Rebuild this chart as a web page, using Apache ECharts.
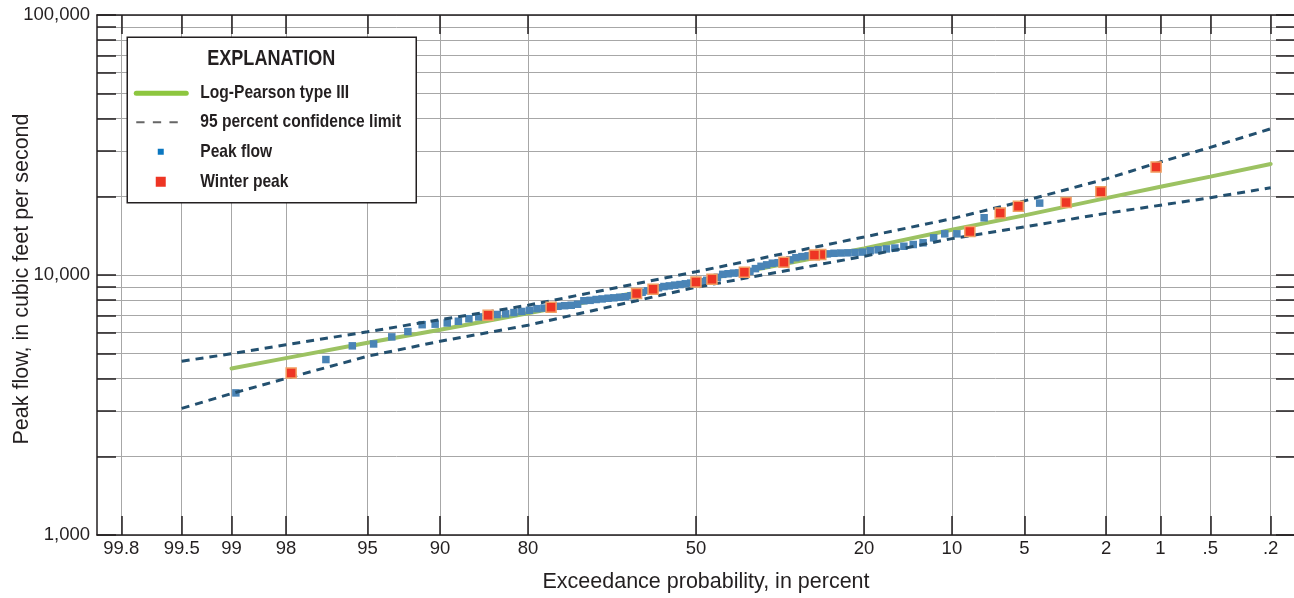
<!DOCTYPE html>
<html>
<head>
<meta charset="utf-8">
<script src="https://cdn.jsdelivr.net/npm/echarts@6/dist/echarts.min.js"></script>
<style>
  html, body { margin: 0; padding: 0; background: #ffffff; }
  #chart { width: 1294px; height: 598px; }
</style>
</head>
<body>
<div id="chart"></div>
<script>
// ---------------- DATA ----------------
// x tick labels (exceedance probability, percent)
const tickExceedance = [99.8, 99.5, 99, 98, 95, 90, 80, 50, 20, 10, 5, 2, 1, 0.5, 0.2];
const tickLabels = ['99.8', '99.5', '99', '98', '95', '90', '80', '50', '20', '10', '5', '2', '1', '.5', '.2'];
const yTickLabels = ['1,000', '10,000', '100,000'];

// annual peak flows (plotting position in percent, flow in ft3/s)
const peakExceedance = [1.06, 2.13, 3.19, 4.26, 5.32, 6.38, 7.45, 8.51, 9.57, 10.64,
  11.70, 12.77, 13.83, 14.89, 15.96, 17.02, 18.09, 19.15, 20.21, 21.28,
  22.34, 23.40, 24.47, 25.53, 26.60, 27.66, 28.72, 29.79, 30.85, 31.91,
  32.98, 34.04, 35.11, 36.17, 37.23, 38.30, 39.36, 40.43, 41.49, 42.55,
  43.62, 44.68, 45.74, 46.81, 47.87, 48.94, 50.00, 51.06, 52.13, 53.19,
  54.26, 55.32, 56.38, 57.45, 58.51, 59.57, 60.64, 61.70, 62.77, 63.83,
  64.89, 65.96, 67.02, 68.09, 69.15, 70.21, 71.28, 72.34, 73.40, 74.47,
  75.53, 76.60, 77.66, 78.72, 79.79, 80.85, 81.91, 82.98, 84.04, 85.11,
  86.17, 87.23, 88.30, 89.36, 90.43, 91.49, 92.55, 93.62, 94.68, 95.74,
  96.81, 97.87, 98.94];
const peakFlow = [26000, 20900, 19000, 18900, 18400, 17300, 16600, 14700, 14400, 14400,
  13900, 13300, 13100, 12900, 12700, 12600, 12500, 12400, 12250, 12200,
  12170, 12150, 12120, 12060, 12000, 11940, 11850, 11770, 11660, 11440,
  11200, 11150, 11100, 10940, 10800, 10580, 10330, 10240, 10190, 10170,
  10110, 10060, 9800, 9640, 9540, 9420, 9400, 9310, 9250, 9190,
  9140, 9080, 9030, 8930, 8810, 8700, 8580, 8480, 8320, 8250,
  8210, 8170, 8140, 8090, 8050, 7990, 7960, 7720, 7650, 7620,
  7580, 7510, 7460, 7420, 7320, 7240, 7170, 7090, 7050, 7000,
  6900, 6790, 6640, 6540, 6470, 6440, 6060, 5780, 5430, 5340,
  4730, 4200, 3520];

// winter peaks
const winterExceedance = [1.06, 2.13, 3.19, 5.32, 6.38, 8.51, 26.60, 27.66, 32.98, 40.43,
  46.81, 50.00, 58.51, 61.70, 76.60, 85.11, 97.87];
const winterFlow = [26000, 20900, 19000, 18400, 17300, 14700, 12000, 11940, 11200, 10240,
  9640, 9400, 8810, 8480, 7510, 7000, 4200];

// Log-Pearson type III fitted curve
const lp3Exceedance = [99, 98, 95, 90, 80, 50, 20, 10, 5, 2, 1, 0.5, 0.2];
const lp3Flow = [4370, 4790, 5490, 6160, 7130, 9460, 12660, 14920, 16960, 19760, 21840, 23900, 26740];

// 95 percent confidence limits
const clExceedance = [99.5, 99, 98, 95, 90, 80, 50, 20, 10, 5, 2, 1, 0.5, 0.2];
const upperFlow = [4660, 4980, 5390, 6050, 6730, 7650, 10290, 14000, 16470, 19280, 23420, 27220, 30950, 36510];
const lowerFlow = [3070, 3500, 4000, 4870, 5560, 6410, 8970, 11800, 13800, 15320, 17260, 18560, 19830, 21670];

// ---------------- probability scale ----------------
function normInv(p) {
  const a = [-3.969683028665376e+01, 2.209460984245205e+02, -2.759285104469687e+02, 1.383577518672690e+02, -3.066479806614716e+01, 2.506628277459239e+00];
  const b = [-5.447609879822406e+01, 1.615858368580409e+02, -1.556989798598866e+02, 6.680131188771972e+01, -1.328068155288572e+01];
  const c = [-7.784894002430293e-03, -3.223964580411365e-01, -2.400758277161838e+00, -2.549732539343734e+00, 4.374664141464968e+00, 2.938163982698783e+00];
  const d = [7.784695709041462e-03, 3.224671290700398e-01, 2.445134137142996e+00, 3.754408661907416e+00];
  const plow = 0.02425, phigh = 1 - plow;
  let q, r;
  if (p < plow) {
    q = Math.sqrt(-2 * Math.log(p));
    return (((((c[0] * q + c[1]) * q + c[2]) * q + c[3]) * q + c[4]) * q + c[5]) / ((((d[0] * q + d[1]) * q + d[2]) * q + d[3]) * q + 1);
  }
  if (p <= phigh) {
    q = p - 0.5; r = q * q;
    return (((((a[0] * r + a[1]) * r + a[2]) * r + a[3]) * r + a[4]) * r + a[5]) * q / (((((b[0] * r + b[1]) * r + b[2]) * r + b[3]) * r + b[4]) * r + 1);
  }
  q = Math.sqrt(-2 * Math.log(1 - p));
  return -(((((c[0] * q + c[1]) * q + c[2]) * q + c[3]) * q + c[4]) * q + c[5]) / ((((d[0] * q + d[1]) * q + d[2]) * q + d[3]) * q + 1);
}
// exceedance percent -> standard normal variate (axis coordinate)
function zOf(pct) { return normInv(1 - pct / 100); }
const tickZ = tickExceedance.map(zOf);
function pairs(px, py) { return px.map((p, i) => [zOf(p), py[i]]); }

// ---------------- styles ----------------
const INK = '#231f20';
const GRID = '#a7a7a7';
const SANS = '"Liberation Sans", Arial, sans-serif';

function xLabel(v) {
  for (let i = 0; i < tickZ.length; i++) if (Math.abs(tickZ[i] - v) < 1e-6) return tickLabels[i];
  return '';
}
function yLabel(v) {
  const idx = Math.round(Math.log10(v)) - 3;
  return yTickLabels[idx] !== undefined ? yTickLabels[idx] : '';
}

const chart = echarts.init(document.getElementById('chart'), null, { renderer: 'canvas' });

const yBase = {
  type: 'log', logBase: 10, min: 1000, max: 100000,
  axisLine: { show: true, onZero: false, lineStyle: { color: INK, width: 1.5 } },
  axisTick: { show: true, inside: true, length: 19, lineStyle: { color: INK, width: 1.5 } },
  minorTick: { show: true, splitNumber: 9, length: 19, lineStyle: { color: INK, width: 1.5 } }
};

// legend (explanation box) text helper: condensed look via horizontal scaling
function legendText(str, x, y, size, center) {
  return {
    type: 'text', x: x, y: y, scaleX: 0.82, z: 101,
    style: { text: str, font: 'bold ' + size + 'px ' + SANS, fill: INK,
      align: center ? 'center' : 'left', verticalAlign: 'middle' }
  };
}

const option = {
  animation: false,
  backgroundColor: '#ffffff',
  grid: { left: 97, top: 15, width: 1198, height: 520, containLabel: false, outerBoundsMode: 'none' },
  xAxis: [
    {
      type: 'value', min: -3, max: 3, position: 'bottom',
      name: 'Exceedance probability, in percent', nameLocation: 'middle', nameGap: 36,
      nameMoveOverlap: false,
      nameTextStyle: { fontFamily: SANS, fontSize: 21.5, color: INK, padding: [0, 0, 0, 20] },
      axisLine: { show: true, onZero: false, lineStyle: { color: INK, width: 1.5 } },
      axisTick: { show: true, inside: true, length: 19, customValues: tickZ, lineStyle: { color: INK, width: 1.5 } },
      axisLabel: { show: true, customValues: tickZ, formatter: xLabel, margin: 4,
        fontFamily: SANS, fontSize: 18.5, color: INK, hideOverlap: false },
      splitLine: { show: true, lineStyle: { color: GRID, width: 1 } }
    },
    {
      type: 'value', min: -3, max: 3, position: 'top',
      axisLine: { show: true, onZero: false, lineStyle: { color: INK, width: 1.5 } },
      axisTick: { show: true, inside: true, length: 19, customValues: tickZ, lineStyle: { color: INK, width: 1.5 } },
      axisLabel: { show: false },
      splitLine: { show: false }
    }
  ],
  yAxis: [
    Object.assign({}, yBase, {
      position: 'left',
      name: 'Peak flow, in cubic feet per second', nameLocation: 'middle', nameGap: 64,
      nameMoveOverlap: false,
      nameTextStyle: { fontFamily: SANS, fontSize: 21.5, color: INK, padding: [0, 8, 0, 0] },
      axisLabel: { show: true, formatter: yLabel, margin: 7, fontFamily: SANS, fontSize: 18.5, color: INK },
      splitLine: { show: true, lineStyle: { color: GRID, width: 1 } },
      minorSplitLine: { show: true, lineStyle: { color: GRID, width: 1 } }
    }),
    Object.assign({}, yBase, {
      position: 'right',
      axisLabel: { show: false },
      splitLine: { show: false },
      minorSplitLine: { show: false }
    })
  ],
  series: [
    {
      name: 'Log-Pearson type III', type: 'line', xAxisIndex: 0, yAxisIndex: 0,
      data: pairs(lp3Exceedance, lp3Flow), showSymbol: false, symbol: 'none', smooth: false,
      lineStyle: { color: '#9cc262', width: 4, cap: 'round' }, z: 2, silent: true
    },
    {
      name: 'Peak flow', type: 'scatter', xAxisIndex: 0, yAxisIndex: 0,
      data: pairs(peakExceedance, peakFlow), symbol: 'rect', symbolSize: 7.5,
      itemStyle: { color: '#4a84b6', opacity: 1 }, z: 3, silent: true
    },
    {
      name: 'Upper 95 percent confidence limit', type: 'line', xAxisIndex: 0, yAxisIndex: 0,
      data: pairs(clExceedance, upperFlow), showSymbol: false, symbol: 'none',
      lineStyle: { color: '#23506f', width: 3, type: [8, 6] }, z: 4, silent: true
    },
    {
      name: 'Lower 95 percent confidence limit', type: 'line', xAxisIndex: 0, yAxisIndex: 0,
      data: pairs(clExceedance, lowerFlow), showSymbol: false, symbol: 'none',
      lineStyle: { color: '#23506f', width: 3, type: [8, 6] }, z: 4, silent: true
    },
    {
      name: 'Winter peak', type: 'scatter', xAxisIndex: 0, yAxisIndex: 0,
      data: pairs(winterExceedance, winterFlow), symbol: 'rect', symbolSize: 10,
      itemStyle: { color: '#ee3524', borderColor: '#f2a063', borderWidth: 1.5, opacity: 1 }, z: 5, silent: true
    }
  ],
  graphic: [
    {
      type: 'group', left: 126.5, top: 36.5, z: 100,
      children: [
        { type: 'rect', z: 100, shape: { x: 0, y: 0, width: 289, height: 165.5 },
          style: { fill: '#ffffff', stroke: INK, lineWidth: 1.5 } },
        legendText('EXPLANATION', 144, 22, 22, true),
        { type: 'line', z: 101, shape: { x1: 9, y1: 56, x2: 59, y2: 56 },
          style: { stroke: '#8dc63f', lineWidth: 5, lineCap: 'round' } },
        legendText('Log-Pearson type III', 73, 56, 19, false),
        { type: 'line', z: 101, shape: { x1: 9, y1: 85, x2: 51, y2: 85 },
          style: { stroke: '#666666', lineWidth: 2, lineDash: [8.3, 8.3] } },
        legendText('95 percent confidence limit', 73, 85, 19, false),
        { type: 'rect', z: 101, shape: { x: 30.5, y: 111.5, width: 6, height: 6 }, style: { fill: '#0b77c0' } },
        legendText('Peak flow', 73, 114.5, 19, false),
        { type: 'rect', z: 101, shape: { x: 28.5, y: 139.5, width: 10, height: 10 }, style: { fill: '#ee3524' } },
        legendText('Winter peak', 73, 144.5, 19, false)
      ]
    }
  ]
};
chart.setOption(option);
</script>
</body>
</html>
